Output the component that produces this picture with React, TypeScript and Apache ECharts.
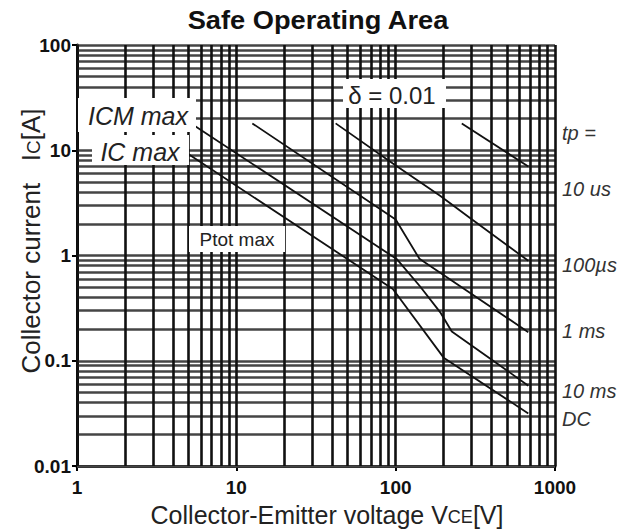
import React, { useEffect, useRef } from "react";
import * as echarts from "echarts";

// Axis ticks
const voltageTicks = [1, 10, 100, 1000];
const currentTicks = [0.01, 0.1, 1, 10, 100];

// SOA curves (VCE [V], IC [A])
const v10us = [260, 680];
const i10us = [18, 7.0];
const v100us = [42, 96, 190, 290, 680];
const i100us = [18, 7.5, 3.7, 2.3, 0.89];
const v1ms = [12.6, 100, 141, 680];
const i1ms = [18, 2.2, 0.93, 0.187];
const v10ms = [5.2, 102, 142, 190, 225, 680];
const i10ms = [18, 0.92, 0.51, 0.29, 0.19, 0.058];
const vDC = [4.6, 96, 200, 680];
const iDC = [10, 0.48, 0.107, 0.0316];

const pulseLabels = ["tp =", "10 us", "100µs", "1 ms", "10 ms", "DC"];

const FONT = "'Liberation Sans', Arial, sans-serif";

function logGrid(decades: number[]): number[] {
  const out: number[] = [];
  decades.forEach((d, idx) => {
    const last = idx === decades.length - 1;
    const top = last ? 1 : 9;
    for (let k = 1; k <= top; k++) out.push(parseFloat((d * k).toPrecision(6)));
  });
  return out;
}

export default function App() {
  const ref = useRef<HTMLDivElement>(null);
  useEffect(() => {
    if (!ref.current) return;
    const chart = echarts.init(ref.current, undefined, { renderer: "svg" });
    const vLines = logGrid(voltageTicks);
    const hLines = logGrid(currentTicks);
    const curve = (name: string, vs: number[], is: number[]) => ({
      type: "line",
      name,
      data: vs.map((v, i) => [v, is[i]]),
      symbol: "none",
      showSymbol: false,
      silent: true,
      z: 10,
      lineStyle: { color: "#111", width: 1.8 },
    });
    const fmt = (v: number) => String(parseFloat(Number(v).toPrecision(6)));
    const rightY = [133, 189, 265, 331, 391, 419];
    chart.setOption({
      animation: false,
      backgroundColor: "#fff",
      grid: { left: 77, right: 83, top: 45, bottom: 66 },
      xAxis: {
        type: "log",
        logBase: 10,
        min: voltageTicks[0],
        max: voltageTicks[voltageTicks.length - 1],
        axisLine: { show: true, lineStyle: { color: "#000", width: 3 } },
        axisTick: { show: true, length: 5, lineStyle: { color: "#000", width: 2 } },
        splitLine: { show: false },
        axisLabel: {
          formatter: fmt,
          fontFamily: FONT,
          fontWeight: "bold",
          fontSize: 19,
          color: "#111",
          margin: 12,
        },
      },
      yAxis: {
        type: "log",
        logBase: 10,
        min: currentTicks[0],
        max: currentTicks[currentTicks.length - 1],
        axisLine: { show: true, lineStyle: { color: "#000", width: 3 } },
        axisTick: { show: true, length: 5, lineStyle: { color: "#000", width: 2 } },
        splitLine: { show: false },
        axisLabel: {
          formatter: fmt,
          fontFamily: FONT,
          fontWeight: "bold",
          fontSize: 19,
          color: "#111",
          margin: 6,
        },
      },
      series: [
        {
          type: "line",
          data: [[1, 0.01]],
          symbol: "none",
          silent: true,
          z: 3,
          lineStyle: { width: 0 },
          markLine: {
            silent: true,
            symbol: ["none", "none"],
            label: { show: false },
            z: 3,
            lineStyle: { color: "#454545", width: 2.6, type: "solid" },
            data: hLines.map((v) => ({ yAxis: v })),
          },
        },
        {
          type: "line",
          data: [[1, 0.01]],
          symbol: "none",
          silent: true,
          z: 4,
          lineStyle: { width: 0 },
          markLine: {
            silent: true,
            symbol: ["none", "none"],
            label: { show: false },
            z: 4,
            lineStyle: { color: "#111", width: 2.6, type: "solid" },
            data: vLines.map((v) => ({ xAxis: v })),
          },
        },
        curve("10 us", v10us, i10us),
        curve("100 us", v100us, i100us),
        curve("1 ms", v1ms, i1ms),
        curve("10 ms", v10ms, i10ms),
        curve("DC", vDC, iDC),
      ],
      graphic: [
        {
          type: "text",
          z: 100,
          x: 318,
          y: 20,
          scaleX: 1.09,
          style: {
            text: "Safe Operating Area",
            font: `bold 25px ${FONT}`,
            fill: "#111",
            textAlign: "center",
            textVerticalAlign: "middle",
          },
        },
        {
          type: "text",
          z: 100,
          x: 327,
          y: 513,
          style: {
            text: "{a|Collector-Emitter voltage V}{b|CE}{a|[V]}",
            textAlign: "center",
            textVerticalAlign: "middle",
            rich: {
              a: { font: `25px ${FONT}`, fill: "#222", verticalAlign: "bottom", lineHeight: 28 },
              b: { font: `18px ${FONT}`, fill: "#222", verticalAlign: "bottom", lineHeight: 28, padding: [0, 0, 1, 0] },
            },
          },
        },
        {
          type: "text",
          z: 100,
          x: 29,
          y: 241,
          rotation: Math.PI / 2,
          style: {
            text: "{a|Collector current   I}{b|C}{a|[A]}",
            textAlign: "center",
            textVerticalAlign: "middle",
            rich: {
              a: { font: `26px ${FONT}`, fill: "#222", verticalAlign: "bottom", lineHeight: 30 },
              b: { font: `19px ${FONT}`, fill: "#222", verticalAlign: "bottom", lineHeight: 30, padding: [0, 0, 1, 0] },
            },
          },
        },
        { type: "rect", z: 99, shape: { x: 78, y: 98, width: 118, height: 34 }, style: { fill: "#fff" } },
        { type: "rect", z: 99, shape: { x: 92, y: 135, width: 97, height: 30 }, style: { fill: "#fff" } },
        { type: "rect", z: 99, shape: { x: 343, y: 79, width: 103, height: 29 }, style: { fill: "#fff" } },
        { type: "rect", z: 99, shape: { x: 189, y: 226, width: 96, height: 26 }, style: { fill: "#fff" } },
        {
          type: "text",
          z: 100,
          x: 138,
          y: 116,
          style: { text: "ICM max", font: `italic 25px ${FONT}`, fill: "#222", textAlign: "center", textVerticalAlign: "middle" },
        },
        {
          type: "text",
          z: 100,
          x: 140,
          y: 152,
          style: { text: "IC max", font: `italic 25px ${FONT}`, fill: "#222", textAlign: "center", textVerticalAlign: "middle" },
        },
        {
          type: "text",
          z: 100,
          x: 392,
          y: 95,
          style: { text: "δ = 0.01", font: `24px ${FONT}`, fill: "#222", textAlign: "center", textVerticalAlign: "middle" },
        },
        {
          type: "text",
          z: 100,
          x: 237,
          y: 239,
          style: { text: "Ptot max", font: `19px ${FONT}`, fill: "#222", textAlign: "center", textVerticalAlign: "middle" },
        },
        ...pulseLabels.map((t, i) => ({
          type: "text",
          z: 100,
          x: 562,
          y: rightY[i],
          style: { text: t, font: `italic 20px ${FONT}`, fill: "#333", textAlign: "left", textVerticalAlign: "middle" },
        })),
      ],
    });
    return () => chart.dispose();
  }, []);
  return (
    <div
      ref={ref}
      style={{ position: "absolute", left: 0, top: 0, width: 638, height: 532, background: "#fff" }}
    />
  );
}
